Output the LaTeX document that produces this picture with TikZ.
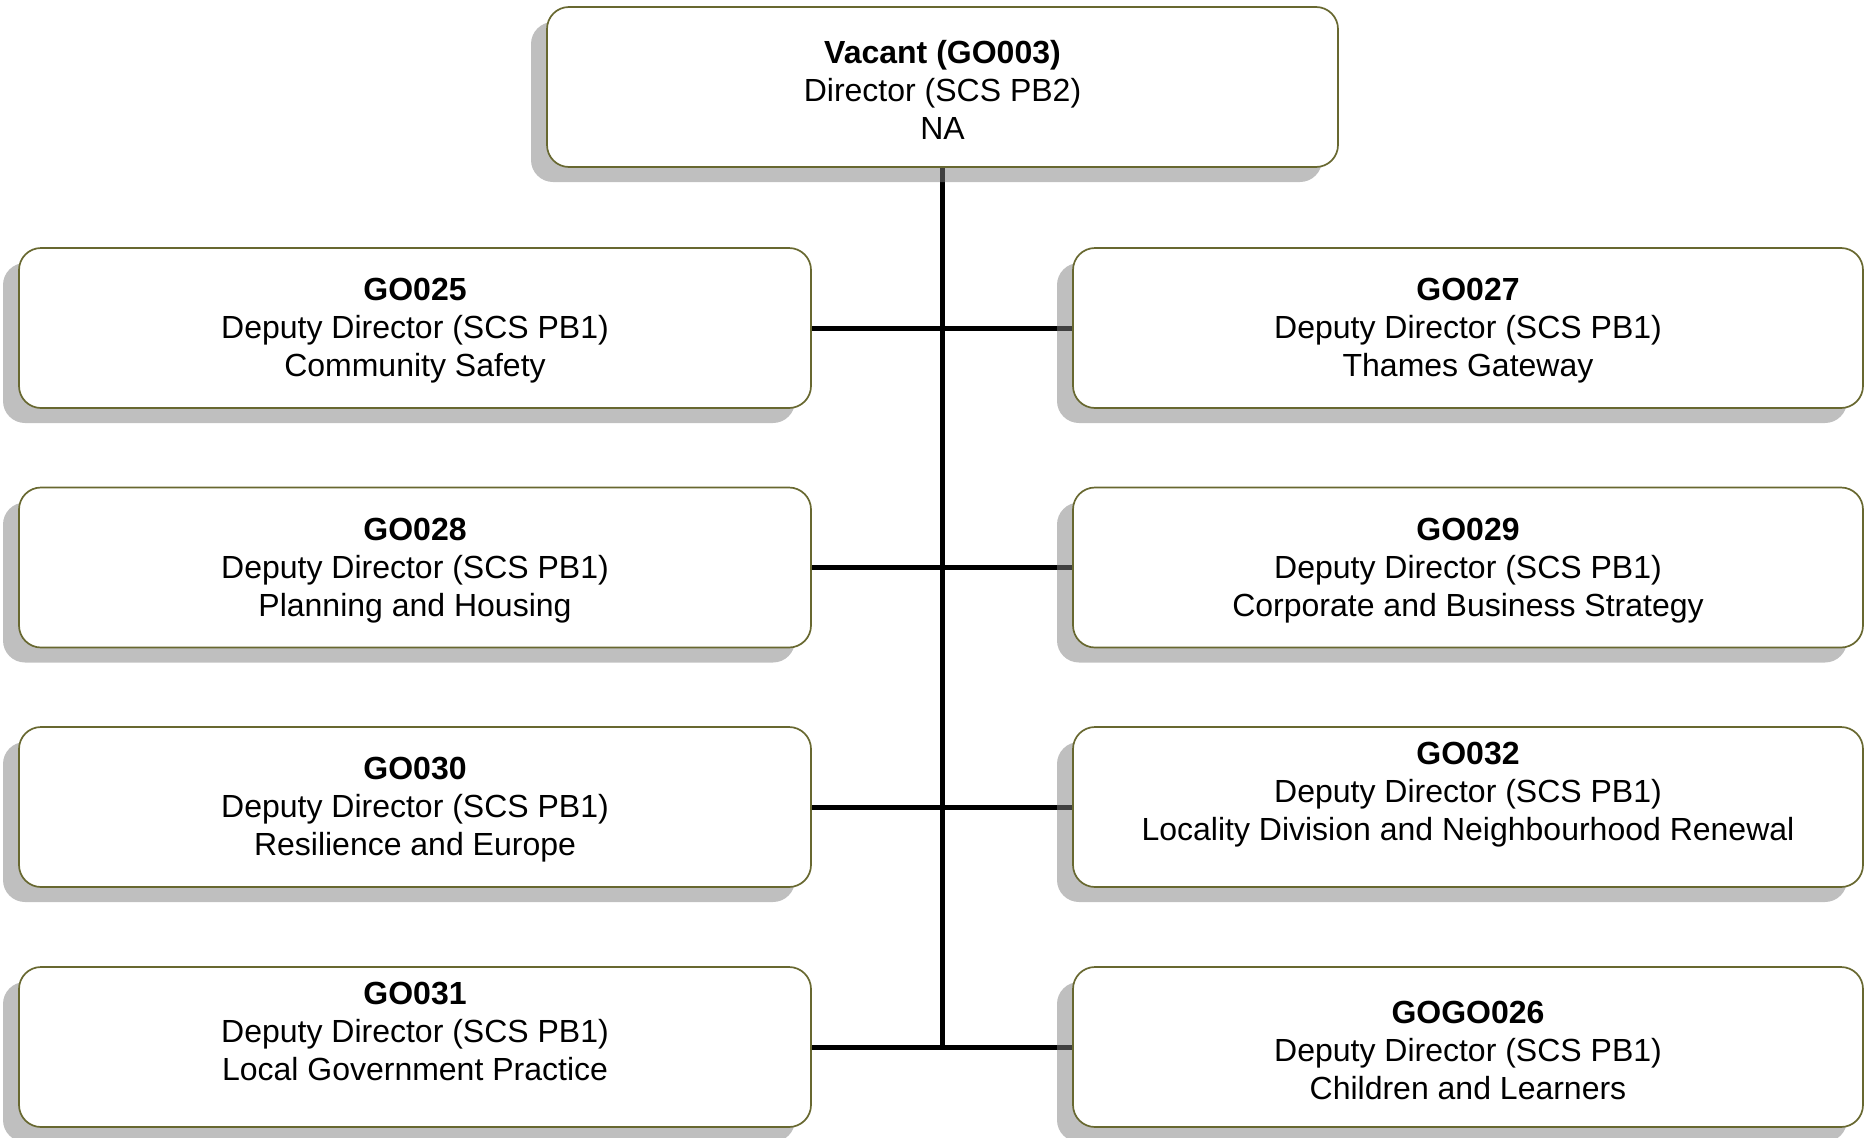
\documentclass[tikz,border=0pt]{standalone}
\usepackage{fontspec}
\setmainfont{Liberation Sans}
\usetikzlibrary{shadows}
\pgfdeclarelayer{background}
\pgfsetlayers{background,main}
\definecolor{boxborder}{RGB}{104,104,48}
\tikzset{
  orgbox/.style={draw=boxborder, line width=1.7pt, fill=white, rounded corners=22pt,
    minimum width=792pt, minimum height=160pt, inner sep=0pt,
    general shadow={fill=black!50, fill opacity=0.5, draw=none, shadow xshift=-16pt, shadow yshift=-15pt}},
  orgtxt/.style={inner sep=0pt, align=center, font=\fontsize{32}{38}\selectfont},
  link/.style={line width=5pt, draw=black}
}
\begin{document}
\begin{tikzpicture}[x=1pt,y=-1pt]
\useasboundingbox (0,0) rectangle (1864,1138);
\node[orgbox, minimum width=791pt] (top) at (942.5,87) {};
\node[orgbox] (g25) at (415,328) {};
\node[orgbox] (g28) at (415,567.5) {};
\node[orgbox] (g30) at (415,807) {};
\node[orgbox] (g31) at (415,1047) {};
\node[orgbox, minimum width=790pt] (g27) at (1468,328) {};
\node[orgbox, minimum width=790pt] (g29) at (1468,567.5) {};
\node[orgbox, minimum width=790pt] (g32) at (1468,807) {};
\node[orgbox, minimum width=790pt] (g26) at (1468,1047) {};
\node[orgtxt] (ttop) at ([yshift=-3pt]top.center) {\textbf{Vacant (GO003)}\\Director (SCS PB2)\\NA};
\node[orgtxt] (t25) at ([yshift=-3pt]g25.center) {\textbf{GO025}\\Deputy Director (SCS PB1)\\Community Safety};
\node[orgtxt] (t28) at ([yshift=-3pt]g28.center) {\textbf{GO028}\\Deputy Director (SCS PB1)\\Planning and Housing};
\node[orgtxt] (t30) at ([yshift=-3pt]g30.center) {\textbf{GO030}\\Deputy Director (SCS PB1)\\Resilience and Europe};
\node[orgtxt] (t31) at ([yshift=-3pt]g31.center) {\textbf{GO031}\\Deputy Director (SCS PB1)\\Local Government Practice\\\mbox{}};
\node[orgtxt] (t27) at ([yshift=-3pt]g27.center) {\textbf{GO027}\\Deputy Director (SCS PB1)\\Thames Gateway};
\node[orgtxt] (t29) at ([yshift=-3pt]g29.center) {\textbf{GO029}\\Deputy Director (SCS PB1)\\Corporate and Business Strategy};
\node[orgtxt] (t32) at ([yshift=-3pt]g32.center) {\textbf{GO032}\\Deputy Director (SCS PB1)\\Locality Division and Neighbourhood Renewal\\\mbox{}};
\node[orgtxt] (t26) at ([yshift=-3pt]g26.center) {\textbf{GOGO026}\\Deputy Director (SCS PB1)\\Children and Learners};
\coordinate (bend) at (top.south |- g31.east);
\begin{pgfonlayer}{background}
\draw[link] (top.south) -- (bend);
\draw[link] (g25.east) -- (g27.west);
\draw[link] (g28.east) -- (g29.west);
\draw[link] (g30.east) -- (g32.west);
\draw[link] (g31.east) -- (g26.west);
\end{pgfonlayer}
\end{tikzpicture}
\end{document}
